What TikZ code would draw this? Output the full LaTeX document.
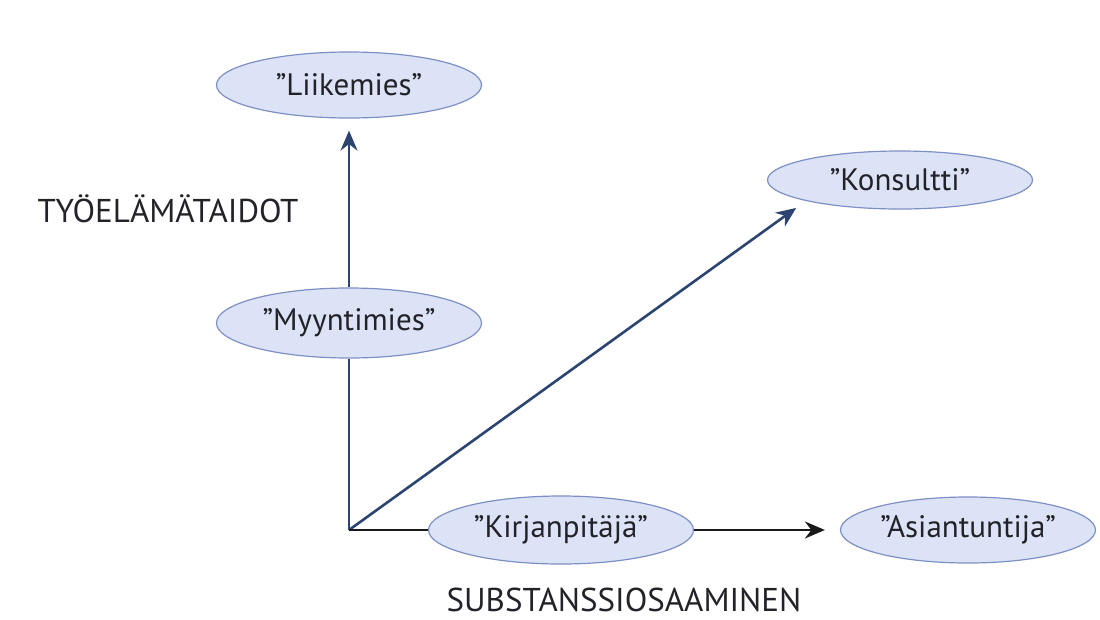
\documentclass[tikz,border=0pt]{standalone}
\usepackage{fontspec}
\setmainfont{PT Sans}
\usetikzlibrary{shapes.geometric,arrows.meta}
\definecolor{efill}{HTML}{DDE3F6}
\definecolor{edraw}{HTML}{7D90C6}
\definecolor{navy}{HTML}{2C4470}
\definecolor{txt}{HTML}{222229}
\tikzset{
  role/.style={ellipse, draw=edraw, fill=efill, line width=1.2pt, inner sep=0pt,
    minimum width=265pt, text=txt, font=\fontsize{31}{34}\selectfont},
  axislabel/.style={text=txt, font=\fontsize{33}{36}\selectfont, inner sep=0pt},
  conn/.style={line width=2.6pt},
  tip/.style={-{Stealth[length=20pt,width=17pt]}},
}
\begin{document}
\begin{tikzpicture}[x=1pt,y=-1pt]
\useasboundingbox (0,0) rectangle (1100,619);
\node[role, minimum height=66pt] (lii) at (349,85) {”Liikemies”};
\node[role, minimum height=70pt] (myy) at (349,323) {”Myyntimies”};
\node[role, minimum height=58pt] (kon) at (900,180) {”Konsultti”};
\node[role, minimum height=68pt] (kir) at (561,530) {”Kirjanpitäjä”};
\node[role, minimum height=66pt, minimum width=255pt] (asi) at (968,530) {”Asiantuntija”};
\coordinate (o) at (349,530);
\node[axislabel] (ty) at (168,209) {TYÖELÄMÄTAIDOT};
\node[axislabel] (su) at (624,600) {SUBSTANSSIOSAAMINEN};
\draw[conn, navy] (o) -- (myy.south);
\draw[conn, navy, tip, shorten >=12pt] (myy.north) -- (lii.south);
\draw[conn, navy, tip, shorten >=12pt] (o) -- (kon.south west);
\draw[conn, black!90] (o) -- (kir.west);
\draw[conn, black!90, tip, shorten >=15pt] (kir.east) -- (asi.west);
\end{tikzpicture}
\end{document}
